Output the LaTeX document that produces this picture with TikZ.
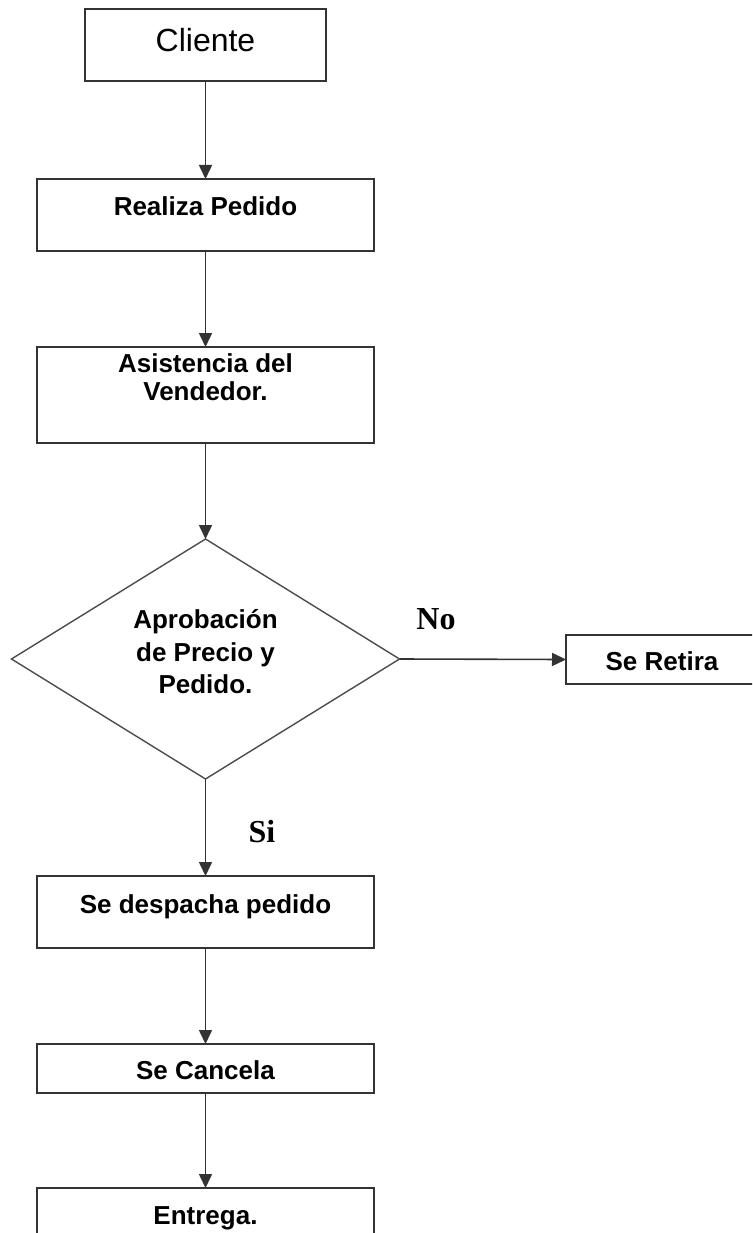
\documentclass[tikz,border=0pt]{standalone}
\usepackage{fontspec}
\setmainfont{Liberation Sans}
\newfontfamily\serifbold{Liberation Serif}
\usetikzlibrary{shapes.geometric,arrows.meta}
\begin{document}
\begin{tikzpicture}[x=1pt,y=-1pt,
  box/.style={draw=black!80,line width=1.6pt,rectangle,inner sep=0pt,outer sep=0pt},
  dia/.style={draw=black!70,line width=1.4pt,diamond,inner sep=0pt,outer sep=0pt,minimum width=388pt,minimum height=240pt},
  lbl/.style={font=\fontsize{26}{30}\selectfont\bfseries,text=black,inner sep=0pt,anchor=base},
  yn/.style={font=\serifbold\fontsize{32}{36}\selectfont\bfseries,text=black,inner sep=0pt,anchor=base},
  arr/.style={draw=black!80,line width=1.6pt,-{Triangle[length=14pt,width=13pt]}}]
\clip (0,0) rectangle (752,1233);
\fill[white] (0,0) rectangle (752,1233);
% boxes
\node[box,minimum width=241pt,minimum height=72pt] (cli) at (205.5,45) {};
\node[box,minimum width=337pt,minimum height=72pt] (rea) at (205.5,215) {};
\node[box,minimum width=337pt,minimum height=96pt] (asi) at (205.5,395) {};
\node[dia] (apr) at (205.5,659) {};
\node[box,minimum width=234pt,minimum height=49pt] (ret) at (683,659.5) {};
\node[box,minimum width=337pt,minimum height=72pt] (des) at (205.5,912) {};
\node[box,minimum width=337pt,minimum height=49pt] (can) at (205.5,1068.5) {};
\node[box,minimum width=337pt,minimum height=72pt] (ent) at (205.5,1224) {};
% labels
\node[inner sep=0pt,anchor=base,font=\fontsize{32}{36}\selectfont] (tcli) at (205.5,52) {Cliente};
\node[lbl] (trea) at (205.5,216) {Realiza Pedido};
\node[lbl] (tasi1) at (205.5,372) {Asistencia del};
\node[lbl] (tasi2) at (205.5,400) {Vendedor.};
\node[lbl] (tapr1) at (205.5,628) {Aprobación};
\node[lbl] (tapr2) at (205.5,661) {de Precio y};
\node[lbl] (tapr3) at (205.5,693) {Pedido.};
\node[lbl] (tret) at (662,670) {Se Retira};
\node[lbl] (tdes) at (205.5,913) {Se despacha pedido};
\node[lbl] (tcan) at (205.5,1079) {Se Cancela};
\node[lbl] (tent) at (205.5,1224) {Entrega.};
\node[yn] (tno) at (436,629) {No};
\node[yn] (tsi) at (262,842) {Si};
% connectors
\draw[arr] (cli.south) -- (rea.north);
\draw[arr] (rea.south) -- (asi.north);
\draw[arr] (asi.south) -- (apr.north);
\draw[arr] (apr.east) -- (ret.west);
\draw[arr] (apr.south) -- (des.north);
\draw[arr] (des.south) -- (can.north);
\draw[arr] (can.south) -- (ent.north);
\end{tikzpicture}
\end{document}
